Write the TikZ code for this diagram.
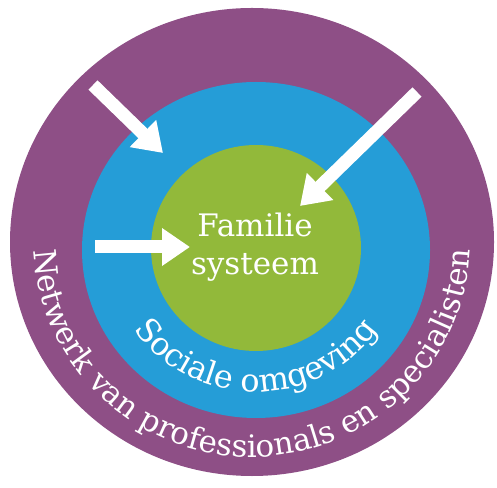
\documentclass[tikz,border=0pt]{standalone}
\usepackage{fontspec}
\setmainfont{DejaVu Serif}
\usepackage{xcolor}
\usetikzlibrary{arrows.meta, shapes.geometric, decorations.text, positioning}
\definecolor{paars}{RGB}{142,79,134}
\definecolor{blauw}{RGB}{37,157,215}
\definecolor{groen}{RGB}{146,185,58}
\newcommand{\ringfont}{\color{white}\fontsize{31}{31}\selectfont}
\newcommand{\omgfont}{\color{white}\fontsize{32}{32}\selectfont}

\begin{document}
\begin{tikzpicture}[x=1pt, y=1pt,
    ring/.style={ellipse, inner sep=0, draw=none},
    pijl/.style={white, line width=13pt, -{Triangle[length=28pt, width=36pt]}},
    midden/.style={text=white, font=\fontsize{31}{38}\selectfont, align=center}]
        \useasboundingbox (0,0) rectangle (497,487);
        \draw node[ring, fill=paars, minimum width=484, minimum height=468] (netwerk) at (252,245) {};
        \draw node[ring, fill=blauw, minimum width=348, minimum height=336] (omgeving) at (256,237) {};
        \draw node[ring, fill=groen, minimum width=210, minimum height=206] (familie) at (256,239) {};

        \draw node[midden] (fam) at (255,240) {Familie\\systeem};

        \path[postaction={decorate}, decoration={text along path, text align=center,
            text={|\omgfont|Sociale omgeving}}]
            (omgeving.center) ++(180:147 and 142) arc[start angle=180, end angle=360, x radius=147, y radius=142];
        \path[postaction={decorate}, decoration={text along path, text align=center,
            text={|\ringfont|Netwerk van professionals en specialisten}}]
            (netwerk.center) ++(180:218 and 215) arc[start angle=180, end angle=360, x radius=218, y radius=215];

        \foreach \n/\x/\y in {s1/93/402, t1/163/334, s2/417/395, t2/300/281, s3/95/240, t3/190/240}
        \coordinate (\n) at (\x,\y);

        \foreach \x in {1, 2, 3}
        \draw[pijl] (s\x) -- (t\x);
      \end{tikzpicture}
\end{document}
